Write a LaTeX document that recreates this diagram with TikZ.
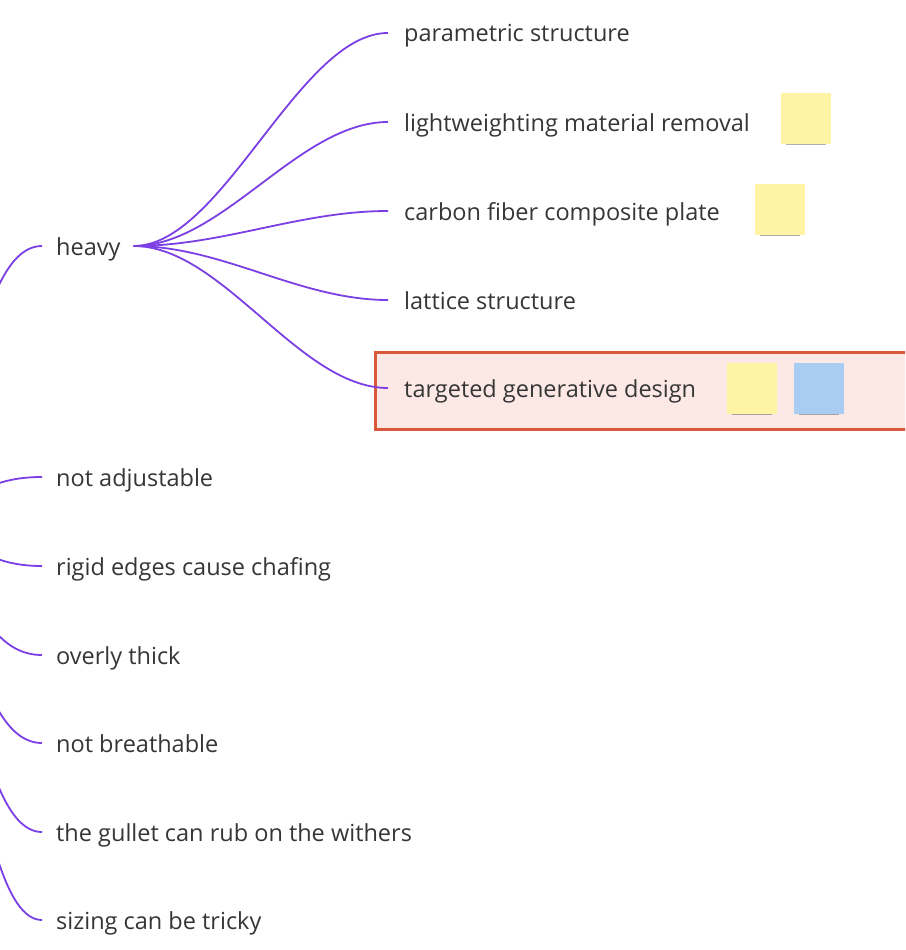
\documentclass[tikz,border=0pt]{standalone}
\usepackage{fontspec}
\setmainfont{Open Sans}
\usetikzlibrary{calc}
\definecolor{branch}{HTML}{7B3FE4}
\definecolor{txt}{HTML}{363636}
\definecolor{hlborder}{HTML}{D9583B}
\definecolor{hlfill}{HTML}{FCE9E5}
\definecolor{stickyY}{HTML}{FFF4A6}
\definecolor{stickyB}{HTML}{A9CCF3}
\tikzset{
  lbl/.style={anchor=base west, inner sep=0pt, text=txt, font=\fontsize{23.5}{26}\selectfont},
  br/.style={draw=branch, line width=1.8pt},
  stickynote/.style={minimum width=50pt, minimum height=51pt, inner sep=0pt, draw=none},
}
\begin{document}
\begin{tikzpicture}[x=1pt,y=-1pt]
\useasboundingbox (0,0) rectangle (905,950);
\clip (0,0) rectangle (905,950);
% highlight box
\node[draw=hlborder, fill=hlfill, line width=2.8pt, minimum width=535pt, minimum height=77pt, anchor=north west, inner sep=0pt] (hl) at (374,351) {};
% root (off-canvas)
\coordinate (root) at (-109,520);
% left column labels (base = connector y + 9)
\node[lbl] (heavy) at (56,255) {heavy};
\node[lbl] (na) at (56,486) {not adjustable};
\node[lbl] (rig) at (56,575) {rigid edges cause chafing};
\node[lbl] (ot) at (56,664) {overly thick};
\node[lbl] (nb) at (56,752) {not breathable};
\node[lbl] (gul) at (56,841) {the gullet can rub on the withers};
\node[lbl] (siz) at (56,929) {sizing can be tricky};
% right column labels
\node[lbl] (par) at (404,42) {parametric structure};
\node[lbl] (lw) at (404,131) {lightweighting material removal};
\node[lbl] (cf) at (404,220) {carbon fiber composite plate};
\node[lbl] (lat) at (404,309) {lattice structure};
\node[lbl] (tgd) at (404,397) {targeted generative design};
% sticky notes
\foreach \nm/\x/\y/\c in {s1/806/118/stickyY, s2/780/209/stickyY, s3/752/388/stickyY, s4/819/388/stickyB}{
  \fill[black!70, opacity=0.45] (\x-20,\y+23) rectangle (\x+20,\y+27);
  \node[stickynote, fill=\c] (\nm) at (\x,\y) {};
}
% connectors from root
\foreach \n in {heavy,na,rig,ot,nb,gul,siz}{
  \coordinate (e) at ([xshift=-14pt,yshift=9pt]\n.base west);
  \coordinate (m) at ($(root)!0.5!(e)$);
  \draw[br] (root) .. controls (m |- root) and (m |- e) .. (e);
}
% connectors from heavy
\coordinate (hv) at ([xshift=13pt,yshift=9pt]heavy.base east);
\foreach \n in {par,lw,cf,lat,tgd}{
  \coordinate (e) at ([xshift=-16pt,yshift=9pt]\n.base west);
  \coordinate (m1) at ($(hv)!0.35!(e)$);
  \coordinate (m2) at ($(hv)!0.65!(e)$);
  \draw[br] (hv) .. controls (m1 |- hv) and (m2 |- e) .. (e);
}
\end{tikzpicture}
\end{document}
